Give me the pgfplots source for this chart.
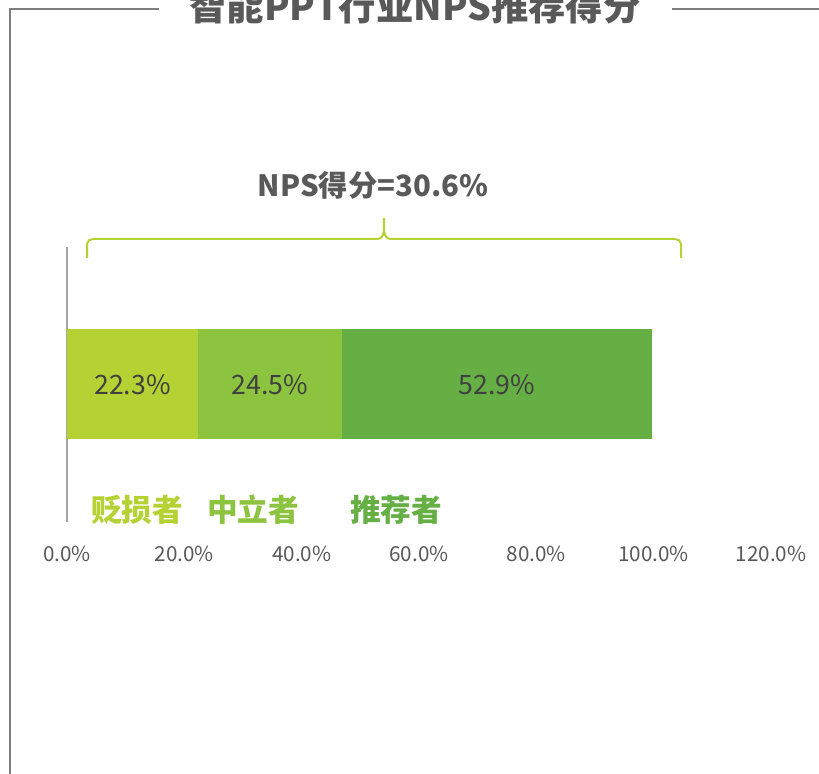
\documentclass[border=0pt]{standalone}
\usepackage{pgfplots}
\pgfplotsset{compat=1.18}
\usepackage{fontspec}
\setmainfont{Noto Sans CJK SC}
\definecolor{cDet}{HTML}{B4D233}
\definecolor{cPas}{HTML}{8CC43F}
\definecolor{cPro}{HTML}{65AF45}
\definecolor{cText}{HTML}{595959}
\definecolor{cVal}{HTML}{404040}
\definecolor{cFrame}{HTML}{7F7F7F}
\definecolor{cAxis}{HTML}{A6A6A6}
\begin{document}
\begin{tikzpicture}[x=0.75pt,y=0.75pt]
\useasboundingbox (0,0) rectangle (819,774);
% frame
\draw[cFrame, line width=1.5pt] (159,764.5) -- (9.5,764.5) -- (9.5,-2);
\draw[cFrame, line width=1.5pt] (672,764.5) -- (822,764.5);
\node[anchor=base, font=\bfseries\fontsize{28}{30}\selectfont, text=cText, inner sep=0] at (415,753) {智能PPT行业NPS推荐得分};
% NPS score and brace
\node[font=\bfseries\fontsize{22}{24}\selectfont, text=cText] at (373,589) {NPS得分=30.6\%};
\draw[cDet, line width=1.5pt] (87,516) -- (87,530) to[out=90,in=180] (93,535) -- (377,535) to[out=0,in=-90] (384,556) to[out=-90,in=180] (391,535) -- (675,535) to[out=0,in=90] (681,530) -- (681,516);
\begin{axis}[
  at={(50.25pt,189pt)}, anchor=south west, scale only axis,
  width=528pt, height=206.25pt,
  xmin=0, xmax=120, ymin=0, ymax=1,
  xbar stacked, bar width=82.5pt,
  axis lines*=left, axis line style={-},
  x axis line style={draw=none},
  y axis line style={draw=cAxis, line width=1.5pt},
  ytick=\empty,
  xtick={0,20,40,60,80,100,120},
  xticklabels={0.0\%,20.0\%,40.0\%,60.0\%,80.0\%,100.0\%,120.0\%},
  major tick length=0,
  xticklabel style={anchor=base, yshift=-30pt, font=\fontsize{15.5}{17}\selectfont, text=cText},
  clip=false]
\addplot[fill=cDet, draw=none] coordinates {(22.3,0.5)};
\addplot[fill=cPas, draw=none] coordinates {(24.5,0.5)};
\addplot[fill=cPro, draw=none] coordinates {(52.9,0.5)};
\coordinate (v1) at (axis cs:11.15,0.5);
\coordinate (v2) at (axis cs:34.55,0.5);
\coordinate (v3) at (axis cs:73.25,0.5);
\end{axis}
\node[font=\fontsize{20}{22}\selectfont, text=cVal] at (v1) {22.3\%};
\node[font=\fontsize{20}{22}\selectfont, text=cVal] at (v2) {24.5\%};
\node[font=\fontsize{20}{22}\selectfont, text=cVal] at (v3) {52.9\%};
% category labels
\node[font=\bfseries\fontsize{23}{25}\selectfont, text=cDet] at (137,264) {贬损者};
\node[font=\bfseries\fontsize{23}{25}\selectfont, text=cPas] at (253,264) {中立者};
\node[font=\bfseries\fontsize{23}{25}\selectfont, text=cPro] at (396,264) {推荐者};
\end{tikzpicture}
\end{document}
